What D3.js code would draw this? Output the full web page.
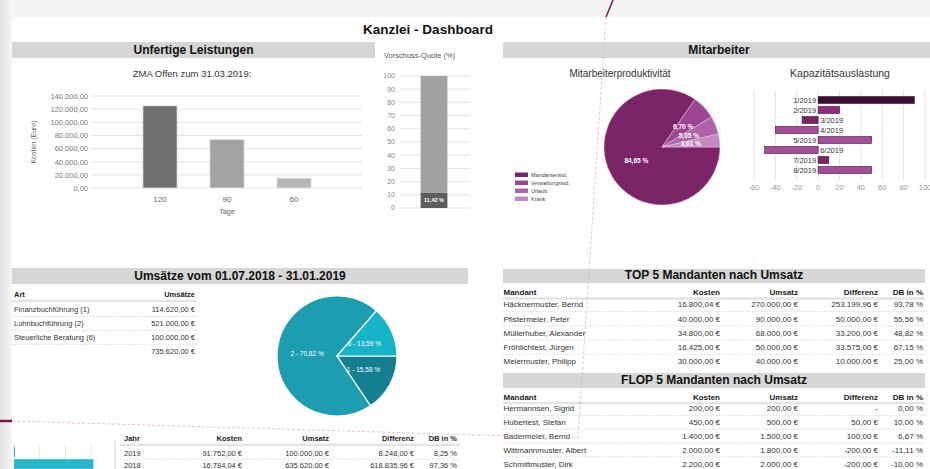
<!DOCTYPE html>
<html>
<head>
<meta charset="utf-8">
<script src="https://cdn.jsdelivr.net/npm/d3@7"></script>
<style>
  body { margin: 0; background: #f4f4f4; }
  svg { display: block; font-family: "Liberation Sans", Arial, sans-serif; }
</style>
</head>
<body>
<div id="dash"></div>
<script>
// ---- data ----
const zmaDays = ["120", "90", "60"];
const zmaCosts = [125000, 74000, 15000];

const quoteKeys = ["Vorschuss", "Offen"];
const quoteParts = [11.42, 88.58];

const prodLabels = ["Mandantenstd.", "Verwaltungsstd.", "Urlaub", "Krank"];
const prodShares = [84.65, 6.70, 5.05, 3.61];

const capMonths = ["1/2019", "2/2019", "3/2019", "4/2019", "5/2019", "6/2019", "7/2019", "8/2019"];
const capValues = [90, 20, -15, -40, 50, -50, 10, 50];

const salesTypes = ["Finanzbuchführung (1)", "Lohnbuchführung (2)", "Steuerliche Beratung (6)"];
const salesKeys = ["1", "2", "6"];
const salesValues = [114620, 521000, 100000];
const salesTotal = 735620;

const topNames = ["Häcknermuster, Bernd", "Pfistermeier, Peter", "Müllerhuber, Alexander", "Fröhlichtest, Jürgen", "Meiermuster, Philipp"];
const topCosts = [16800.04, 40000, 34800, 16425, 30000];
const topSales = [270000, 90000, 68000, 50000, 40000];
const topDiff = [253199.96, 50000, 33200, 33575, 10000];
const topDb = [93.78, 55.56, 48.82, 67.15, 25.00];

const flopNames = ["Hermannsen, Sigrid", "Hubertest, Stefan", "Badermeier, Bernd", "Wittmannmuster, Albert", "Schmittmuster, Dirk"];
const flopCosts = [200, 450, 1400, 2000, 2200];
const flopSales = [200, 500, 1500, 1800, 2000];
const flopDiff = [0, 50, 100, -200, -200];
const flopDb = [0, 10, 6.67, -11.11, -10];

const years = ["2019", "2018"];
const yearCosts = [91752, 16784.04];
const yearSales = [100000, 635620];
const yearDiff = [8248, 618835.96];
const yearDb = [8.25, 97.36];

// ---- helpers ----
const de = d3.formatLocale({ decimal: ",", thousands: ".", grouping: [3], currency: ["", " €"], minus: "-" });
const num2 = de.format(",.2f");
const eur = v => num2(v) + " €";
const pct = v => num2(v) + " %";

const W = 930, H = 469;
const svg = d3.select("#dash").append("svg").attr("width", W).attr("height", H);

const defs = svg.append("defs");
const grad = defs.append("linearGradient").attr("id", "edge");
grad.append("stop").attr("offset", "0%").attr("stop-color", "#e2e2e2");
grad.append("stop").attr("offset", "100%").attr("stop-color", "#f6f6f6");

// sheet
svg.append("rect").attr("width", 12).attr("height", H).attr("fill", "url(#edge)");
svg.append("rect").attr("x", 12).attr("y", 17).attr("width", W - 12).attr("height", H - 17).attr("fill", "#fff");

svg.append("text")
    .attr("x", 428).attr("y", 34)
    .style("text-anchor", "middle")
    .style("font-size", "13.5px").style("font-weight", "bold").attr("fill", "#111")
    .text("Kanzlei - Dashboard");

function header(x0, x1, y0, y1, label) {
    svg.append("rect").attr("x", x0).attr("y", y0).attr("width", x1 - x0).attr("height", y1 - y0).attr("fill", "#d6d6d6");
    svg.append("text")
        .attr("x", (x0 + x1) / 2).attr("y", y1 - 4)
        .style("text-anchor", "middle")
        .style("font-size", "12px").style("font-weight", "bold").attr("fill", "#111")
        .text(label);
}

header(12, 375, 42, 58, "Unfertige Leistungen");
header(503, 935, 42, 58, "Mitarbeiter");
header(12, 468, 268, 284, "Umsätze vom 01.07.2018 - 31.01.2019");
header(503, 925, 269, 283, "TOP 5 Mandanten nach Umsatz");
header(503, 925, 373, 388, "FLOP 5 Mandanten nach Umsatz");

// ---- ZMA bar chart ----
svg.append("text")
    .attr("x", 192).attr("y", 77)
    .style("text-anchor", "middle").style("font-size", "9.5px").attr("fill", "#333")
    .text("ZMA Offen zum 31.03.2019:");

const zx = d3.scaleBand().domain(zmaDays).range([92, 362]).paddingInner(0.49).paddingOuter(0.76);
const zy = d3.scaleLinear().domain([0, 140000]).range([188, 96]);
const zTicks = d3.range(0, 140001, 20000);

svg.append("g").selectAll("line").data(zTicks).enter().append("line")
    .attr("x1", 92).attr("x2", 362)
    .attr("y1", d => zy(d)).attr("y2", d => zy(d))
    .attr("stroke", "#e2e2e2");

const zAxis = svg.append("g").attr("transform", "translate(88,0)")
    .call(d3.axisLeft(zy).tickValues(zTicks).tickSize(0).tickPadding(0).tickFormat(num2));
zAxis.select(".domain").remove();
zAxis.selectAll("text").style("font-size", "7.5px").attr("fill", "#777").style("font-family", "inherit");

const zColors = ["#6d6f71", "#a1a3a4", "#b4b6b7"];
svg.append("g").selectAll("rect").data(zmaCosts).enter().append("rect")
    .attr("x", (d, i) => zx(zmaDays[i]))
    .attr("width", zx.bandwidth())
    .attr("y", d => zy(d))
    .attr("height", d => zy(0) - zy(d))
    .attr("fill", (d, i) => zColors[i])
    .attr("stroke", "#e6e6e6").attr("stroke-width", 0.8);

const zxAxis = svg.append("g").attr("transform", "translate(0,196)")
    .call(d3.axisBottom(zx).tickSize(0).tickPadding(0));
zxAxis.select(".domain").remove();
zxAxis.selectAll("text").style("font-size", "8px").attr("fill", "#666").style("font-family", "inherit");

svg.append("text").attr("x", 227).attr("y", 214)
    .style("text-anchor", "middle").style("font-size", "7px").attr("fill", "#666").text("Tage");
svg.append("text").attr("transform", "translate(36,142) rotate(-90)")
    .style("text-anchor", "middle").style("font-size", "7px").attr("fill", "#666").text("Kosten (Euro)");

// ---- Vorschuss-Quote ----
svg.append("text").attr("x", 384).attr("y", 58)
    .style("font-size", "7.5px").attr("fill", "#555").text("Vorschuss-Quote (%)");

const qy = d3.scaleLinear().domain([0, 100]).range([208, 76]);
const qx = d3.scaleBand().domain(["Quote"]).range([400, 468]).paddingInner(0.35).paddingOuter(0.5);
const qTicks = d3.range(0, 101, 10);

svg.append("g").selectAll("line").data(qTicks).enter().append("line")
    .attr("x1", 400).attr("x2", 470)
    .attr("y1", d => qy(d)).attr("y2", d => qy(d))
    .attr("stroke", "#e4e4e4");
svg.append("g").selectAll("text").data(qTicks).enter().append("text")
    .attr("x", 395).attr("y", d => qy(d)).attr("dy", "0.35em")
    .style("text-anchor", "end").style("font-size", "7px").attr("fill", "#888")
    .text(d => d);

const qRow = { Quote: "Quote" };
quoteKeys.forEach((k, i) => qRow[k] = quoteParts[i]);
const qStack = d3.stack().keys(quoteKeys)([qRow]);
const qColors = ["#5b5d5e", "#9fa1a2"];
svg.append("g").selectAll("rect").data(qStack).enter().append("rect")
    .attr("x", qx("Quote")).attr("width", qx.bandwidth())
    .attr("y", d => qy(d[0][1]))
    .attr("height", d => qy(d[0][0]) - qy(d[0][1]))
    .attr("fill", (d, i) => qColors[i]);
svg.append("text")
    .attr("x", qx("Quote") + qx.bandwidth() / 2)
    .attr("y", (qy(0) + qy(quoteParts[0])) / 2).attr("dy", "0.35em")
    .style("text-anchor", "middle").style("font-size", "5.5px").style("font-weight", "bold").attr("fill", "#fff")
    .text(pct(quoteParts[0]));

// ---- Mitarbeiterproduktivität pie ----
svg.append("text").attr("x", 620).attr("y", 77)
    .style("text-anchor", "middle").style("font-size", "10px").attr("fill", "#333")
    .text("Mitarbeiterproduktivität");

const prodColors = ["#7b2468", "#9c4592", "#ae62a7", "#c588bf"];
const prodPie = d3.pie().sort(null).startAngle(Math.PI / 2).endAngle(Math.PI / 2 + 2 * Math.PI)(prodShares);
const prodArc = d3.arc().innerRadius(0).outerRadius(58);
const prodLabelArc = d3.arc().innerRadius(29).outerRadius(29);
const pg = svg.append("g").attr("transform", "translate(662,147)");
pg.selectAll("path").data(prodPie).enter().append("path")
    .attr("d", prodArc)
    .attr("fill", (d, i) => prodColors[i])
    .attr("stroke", "#e9cfe4").attr("stroke-width", 0.5);
pg.selectAll("text").data(prodPie).enter().append("text")
    .attr("transform", d => "translate(" + prodLabelArc.centroid(d) + ")")
    .attr("dy", "0.35em")
    .style("text-anchor", "middle").style("font-size", "6.5px").style("font-weight", "bold").attr("fill", "#fff")
    .text(d => pct(d.data));

const lg = svg.append("g").selectAll("g").data(prodLabels).enter().append("g")
    .attr("transform", (d, i) => "translate(515," + (172.5 + i * 8) + ")");
lg.append("rect").attr("width", 13).attr("height", 4.5).attr("fill", (d, i) => prodColors[i]);
lg.append("text").attr("x", 16).attr("y", 2.3).attr("dy", "0.35em")
    .style("font-size", "5.5px").attr("fill", "#444").text(d => d);

// ---- Kapazitätsauslastung ----
svg.append("text").attr("x", 840).attr("y", 77)
    .style("text-anchor", "middle").style("font-size", "10.5px").attr("fill", "#333")
    .text("Kapazitätsauslastung");

const cx = d3.scaleLinear().domain([-60, 100]).range([754, 925]);
const cy = d3.scaleBand().domain(capMonths).range([95, 175]).paddingInner(0.3).paddingOuter(0.15);
const cTicks = d3.range(-60, 101, 20);
svg.append("g").selectAll("line").data(cTicks).enter().append("line")
    .attr("x1", d => cx(d)).attr("x2", d => cx(d))
    .attr("y1", 90).attr("y2", 180)
    .attr("stroke", "#e4e4e4");
svg.append("g").selectAll("text").data(cTicks).enter().append("text")
    .attr("x", d => cx(d)).attr("y", 187).attr("dy", "0.35em")
    .style("text-anchor", "middle").style("font-size", "7.5px").attr("fill", "#999")
    .text(d => d);

const capColors = ["#3a0a30", "#8d2c80", "#7b2468", "#a44d9b", "#a44d9b", "#a44d9b", "#7b2468", "#a44d9b"];
svg.append("g").selectAll("rect").data(capValues).enter().append("rect")
    .attr("x", d => cx(Math.min(0, d)))
    .attr("width", d => Math.abs(cx(d) - cx(0)))
    .attr("y", (d, i) => cy(capMonths[i]))
    .attr("height", cy.bandwidth())
    .attr("fill", (d, i) => capColors[i])
    .attr("stroke", "#3c1534").attr("stroke-width", 0.6);
svg.append("g").selectAll("text").data(capValues).enter().append("text")
    .attr("x", d => d >= 0 ? cx(0) - 2 : cx(0) + 2)
    .attr("y", (d, i) => cy(capMonths[i]) + cy.bandwidth() / 2).attr("dy", "0.35em")
    .style("text-anchor", d => d >= 0 ? "end" : "start")
    .style("font-size", "7.5px").attr("fill", "#333")
    .text((d, i) => capMonths[i]);

// ---- tables ----
function drawTable(cols, head, rows, yHead, yLine, yRow0, step, x0, x1, fs) {
    const g = svg.append("g").style("font-size", fs + "px");
    g.append("line").attr("x1", x0).attr("x2", x1).attr("y1", yLine).attr("y2", yLine)
        .attr("stroke", "#e3e3e3").attr("stroke-width", 2.5);
    head.forEach((h, j) => {
        g.append("text").attr("x", cols[j].x).attr("y", yHead).attr("dy", "0.35em")
            .style("text-anchor", cols[j].anchor).style("font-weight", "bold").attr("fill", "#222")
            .text(h);
    });
    rows.forEach((r, i) => {
        const yc = yRow0 + i * step;
        if (i > 0) {
            g.append("line").attr("x1", x0).attr("x2", x1)
                .attr("y1", yc - step / 2).attr("y2", yc - step / 2)
                .attr("stroke", "#d0d0d0").attr("stroke-width", 0.8).attr("stroke-dasharray", "1.5,1.5");
        }
        r.forEach((c, j) => {
            g.append("text").attr("x", cols[j].x).attr("y", yc).attr("dy", "0.35em")
                .style("text-anchor", cols[j].anchor).attr("fill", "#333")
                .text(c);
        });
    });
}

const sideCols = [
    { x: 503.5, anchor: "start" }, { x: 720, anchor: "end" }, { x: 798, anchor: "end" },
    { x: 878, anchor: "end" }, { x: 923, anchor: "end" }
];
const sideHead = ["Mandant", "Kosten", "Umsatz", "Differenz", "DB in %"];

drawTable(sideCols, sideHead,
    topNames.map((n, i) => [n, eur(topCosts[i]), eur(topSales[i]), eur(topDiff[i]), pct(topDb[i])]),
    292, 298.5, 304.5, 14.2, 503, 925, 8);

drawTable(sideCols, sideHead,
    flopNames.map((n, i) => [n, eur(flopCosts[i]), eur(flopSales[i]), flopDiff[i] === 0 ? "-" : eur(flopDiff[i]), pct(flopDb[i])]),
    397, 403, 408.5, 13.8, 503, 925, 8);

const salesRows = salesTypes.map((t, i) => [t, eur(salesValues[i])]);
salesRows.push(["", eur(salesTotal)]);
drawTable([{ x: 14, anchor: "start" }, { x: 195, anchor: "end" }], ["Art", "Umsätze"],
    salesRows, 294.5, 301, 309.5, 13.9, 12, 197, 7.5);

drawTable([
    { x: 124, anchor: "start" }, { x: 242, anchor: "end" }, { x: 329, anchor: "end" },
    { x: 414, anchor: "end" }, { x: 457, anchor: "end" }
], ["Jahr", "Kosten", "Umsatz", "Differenz", "DB in %"],
    years.map((y, i) => [y, eur(yearCosts[i]), eur(yearSales[i]), eur(yearDiff[i]), pct(yearDb[i])]),
    438, 445, 453, 12.4, 120, 460, 7.5);

// ---- Umsätze pie ----
const salesColors = ["#137f91", "#1c9db0", "#17b4c8"];
const salesPie = d3.pie().sort(null).startAngle(Math.PI / 2).endAngle(Math.PI / 2 + 2 * Math.PI)(salesValues);
const salesArc = d3.arc().innerRadius(0).outerRadius(60);
const salesLabelArc = d3.arc().innerRadius(30).outerRadius(30);
const sg = svg.append("g").attr("transform", "translate(337,356)");
sg.selectAll("path").data(salesPie).enter().append("path")
    .attr("d", salesArc)
    .attr("fill", (d, i) => salesColors[i])
    .attr("stroke", "#fff").attr("stroke-width", 1.2);
sg.selectAll("text").data(salesPie).enter().append("text")
    .attr("transform", d => "translate(" + salesLabelArc.centroid(d) + ")")
    .attr("dy", "0.35em")
    .style("text-anchor", "middle").style("font-size", "6.5px").attr("fill", "#fff")
    .text((d, i) => salesKeys[i] + " - " + num2(d.data / salesTotal * 100) + " %");

// ---- small year bars (Differenz) ----
const yx = d3.scaleLinear().domain([0, 600000]).range([14, 91]);
const yyBand = d3.scaleBand().domain(years).range([446, 470]).paddingInner(0.2).paddingOuter(0.1);
svg.append("g").selectAll("line").data(yx.ticks(3)).enter().append("line")
    .attr("x1", d => yx(d)).attr("x2", d => yx(d))
    .attr("y1", 445).attr("y2", 469)
    .attr("stroke", "#e4e4e4");
svg.append("g").selectAll("rect").data(yearDiff).enter().append("rect")
    .attr("x", yx(0))
    .attr("width", d => yx(d) - yx(0))
    .attr("y", (d, i) => yyBand(years[i]))
    .attr("height", yyBand.bandwidth())
    .attr("fill", "#27b5cb");
svg.append("line").attr("x1", 115).attr("x2", 115).attr("y1", 441).attr("y2", 469)
    .attr("stroke", "#d4d4d4");

// ---- pen line across the photo ----
svg.append("path")
    .attr("d", "M606,17 L578,438 L12,421")
    .attr("fill", "none").attr("stroke", "#d9a3bf").attr("stroke-width", 0.8)
    .attr("stroke-dasharray", "3,2").attr("opacity", 0.8);
svg.append("line").attr("x1", 613).attr("y1", 0).attr("x2", 606).attr("y2", 17)
    .attr("stroke", "#7d1454").attr("stroke-width", 1.5);
svg.append("line").attr("x1", 0).attr("y1", 421).attr("x2", 12).attr("y2", 421)
    .attr("stroke", "#7d1454").attr("stroke-width", 2.5);
</script>
</body>
</html>
